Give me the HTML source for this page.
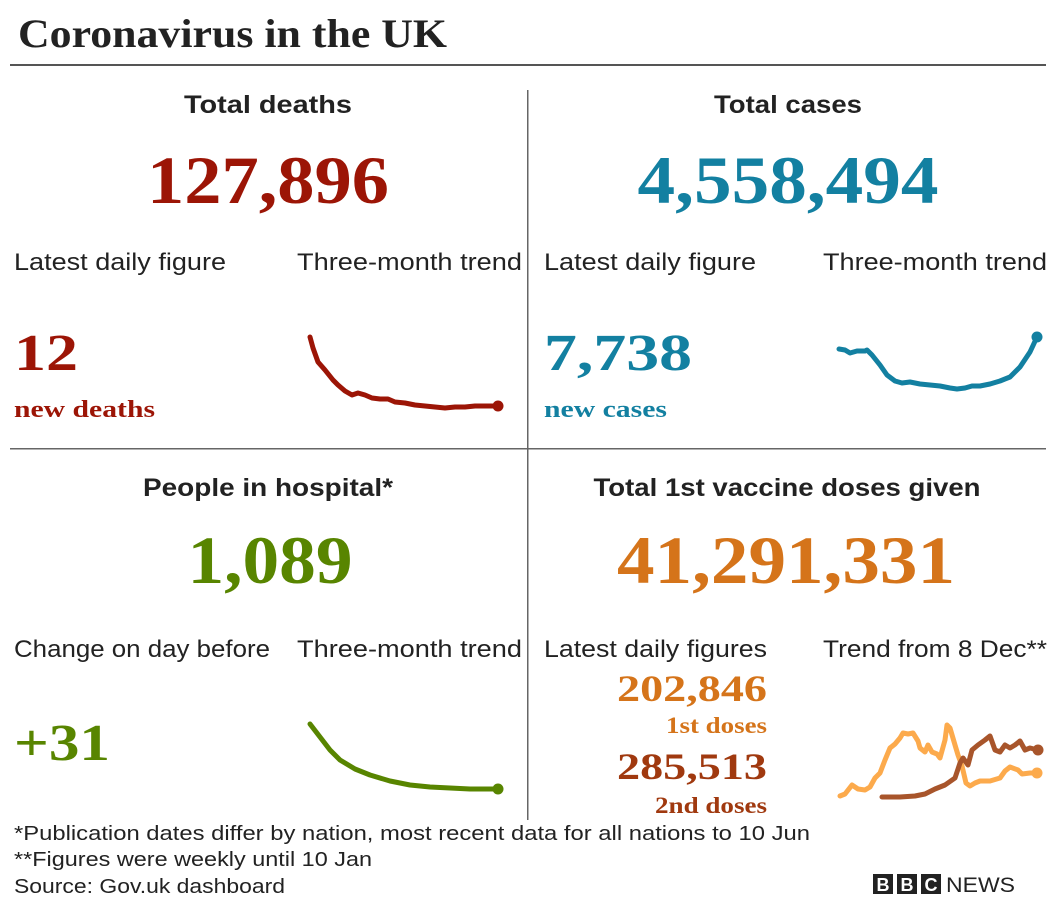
<!DOCTYPE html>
<html><head><meta charset="utf-8"><style>
html,body{margin:0;padding:0;background:#fff}
svg{display:block}
.sans{font-family:"Liberation Sans",sans-serif;fill:#222}
.serif{font-family:"Liberation Serif",serif}
.big{font-weight:bold}
</style></head><body>
<svg id="chart" width="1056" height="907" viewBox="0 0 1056 907">
<text class="serif" x="18" y="47" font-size="40" font-weight="bold" fill="#222" textLength="429" lengthAdjust="spacingAndGlyphs">Coronavirus in the UK</text>
<rect x="10" y="64" width="1036" height="2" fill="#555"/>
<rect x="527" y="90" width="1.5" height="730" fill="#666"/>
<rect x="10" y="448" width="1036" height="1.5" fill="#666"/>

<!-- Deaths -->
<text class="sans" x="268" y="113" text-anchor="middle" font-size="25" font-weight="bold" textLength="168" lengthAdjust="spacingAndGlyphs">Total deaths</text>
<text class="serif big" x="268" y="203" text-anchor="middle" font-size="68" fill="#9c1506" textLength="242" lengthAdjust="spacingAndGlyphs">127,896</text>
<text class="sans" x="14" y="270" font-size="24" textLength="212" lengthAdjust="spacingAndGlyphs">Latest daily figure</text>
<text class="sans" x="297" y="270" font-size="24" textLength="225" lengthAdjust="spacingAndGlyphs">Three-month trend</text>
<text class="serif big" x="14" y="370" font-size="52" fill="#9c1506" textLength="64" lengthAdjust="spacingAndGlyphs">12</text>
<text class="serif" x="14" y="417" font-size="24" font-weight="bold" fill="#9c1506" textLength="141" lengthAdjust="spacingAndGlyphs">new deaths</text>

<!-- Cases -->
<text class="sans" x="788" y="113" text-anchor="middle" font-size="25" font-weight="bold" textLength="148" lengthAdjust="spacingAndGlyphs">Total cases</text>
<text class="serif big" x="788" y="203" text-anchor="middle" font-size="68" fill="#1380a1" textLength="301" lengthAdjust="spacingAndGlyphs">4,558,494</text>
<text class="sans" x="544" y="270" font-size="24" textLength="212" lengthAdjust="spacingAndGlyphs">Latest daily figure</text>
<text class="sans" x="823" y="270" font-size="24" textLength="224" lengthAdjust="spacingAndGlyphs">Three-month trend</text>
<text class="serif big" x="544" y="370" font-size="52" fill="#1380a1" textLength="148" lengthAdjust="spacingAndGlyphs">7,738</text>
<text class="serif" x="544" y="417" font-size="24" font-weight="bold" fill="#1380a1" textLength="123" lengthAdjust="spacingAndGlyphs">new cases</text>

<!-- Hospital -->
<text class="sans" x="268" y="496" text-anchor="middle" font-size="25" font-weight="bold" textLength="250" lengthAdjust="spacingAndGlyphs">People in hospital*</text>
<text class="serif big" x="270" y="583" text-anchor="middle" font-size="68" fill="#588500" textLength="165" lengthAdjust="spacingAndGlyphs">1,089</text>
<text class="sans" x="14" y="657" font-size="24" textLength="256" lengthAdjust="spacingAndGlyphs">Change on day before</text>
<text class="sans" x="297" y="657" font-size="24" textLength="225" lengthAdjust="spacingAndGlyphs">Three-month trend</text>
<text class="serif big" x="14" y="760" font-size="52" fill="#588500" textLength="96" lengthAdjust="spacingAndGlyphs">+31</text>

<!-- Vaccine -->
<text class="sans" x="787" y="496" text-anchor="middle" font-size="25" font-weight="bold" textLength="387" lengthAdjust="spacingAndGlyphs">Total 1st vaccine doses given</text>
<text class="serif big" x="786" y="583" text-anchor="middle" font-size="68" fill="#d5741a" textLength="338" lengthAdjust="spacingAndGlyphs">41,291,331</text>
<text class="sans" x="544" y="657" font-size="24" textLength="223" lengthAdjust="spacingAndGlyphs">Latest daily figures</text>
<text class="sans" x="823" y="657" font-size="24" textLength="224" lengthAdjust="spacingAndGlyphs">Trend from 8 Dec**</text>
<text class="serif big" x="767" y="701" text-anchor="end" font-size="37" fill="#d5741a" textLength="150" lengthAdjust="spacingAndGlyphs">202,846</text>
<text class="serif" x="767" y="733" text-anchor="end" font-size="23" font-weight="bold" fill="#d5741a" textLength="101" lengthAdjust="spacingAndGlyphs">1st doses</text>
<text class="serif big" x="767" y="779" text-anchor="end" font-size="37" fill="#a0390f" textLength="150" lengthAdjust="spacingAndGlyphs">285,513</text>
<text class="serif" x="767" y="813" text-anchor="end" font-size="23" font-weight="bold" fill="#a0390f" textLength="112" lengthAdjust="spacingAndGlyphs">2nd doses</text>

<!-- Footer -->
<text class="sans" x="14" y="840" font-size="20" textLength="796" lengthAdjust="spacingAndGlyphs">*Publication dates differ by nation, most recent data for all nations to 10 Jun</text>
<text class="sans" x="14" y="866" font-size="20" textLength="358" lengthAdjust="spacingAndGlyphs">**Figures were weekly until 10 Jan</text>
<text class="sans" x="14" y="893" font-size="20" textLength="271" lengthAdjust="spacingAndGlyphs">Source: Gov.uk dashboard</text>
<g>
<rect x="873" y="874" width="20" height="20" fill="#222"/><text x="883" y="891" text-anchor="middle" font-family="Liberation Sans" font-weight="bold" font-size="18" fill="#fff">B</text>
<rect x="897" y="874" width="20" height="20" fill="#222"/><text x="907" y="891" text-anchor="middle" font-family="Liberation Sans" font-weight="bold" font-size="18" fill="#fff">B</text>
<rect x="921" y="874" width="20" height="20" fill="#222"/><text x="931" y="891" text-anchor="middle" font-family="Liberation Sans" font-weight="bold" font-size="18" fill="#fff">C</text>
<text x="946" y="892" font-family="Liberation Sans" font-size="21" fill="#222" textLength="69" lengthAdjust="spacingAndGlyphs">NEWS</text>
</g>
<g id="sparks"></g>
</svg>
<script>
// Deaths trend (days index, relative daily deaths)
const deathDays=[0,3,8,15,23,28,35,42,48,55,62,70,78,85,95,105,115,125,135,145,155,165,175,188];
const deathVals=[70,59,45,37,27,22,16,12,14,12,9,8,8,5,4,2,1,0,-1,0,0,1,1,1];
// Cases trend
const caseDays=[0,6,11,18,26,28,33,41,48,56,63,71,81,91,101,111,118,126,133,141,151,161,171,181,191,198];
const caseVals=[41,40,37,39,39,40,35,25,15,9,7,8,6,5,4,2,1,2,4,4,6,9,13,23,38,53];
// Hospital trend
const hospDays=[0,10,20,30,45,60,80,100,120,140,160,188];
const hospVals=[66,53,40,30,21,15,9,5,3,2,1,1];
// Vaccines, days from 8 Dec
const firstDays=[0,5,12,18,25,30,35,40,45,50,55,60,63,68,73,78,80,85,88,92,97,100,105,107,110,115,118,122,126,130,135,140,150,160,165,170,178,182,190,197];
const firstVals=[0,2,11,7,6,9,18,23,36,48,52,58,63,62,63,55,48,44,51,44,42,38,56,71,68,51,41,30,13,10,13,15,15,18,25,29,26,22,23,23];
const secondDays=[42,60,75,85,95,105,115,120,123,128,132,138,145,150,155,160,165,170,175,180,185,190,198];
const secondVals=[-1,-1,0,2,7,11,18,33,38,31,46,51,56,60,46,44,51,48,51,55,46,48,46];

const g=document.getElementById('sparks');
const NS='http://www.w3.org/2000/svg';
function scale(d0,d1,r0,r1){return v=>r0+(v-d0)*(r1-r0)/(d1-d0);}
function draw(days,vals,xs,ys,color,name,dot){
  const p=document.createElementNS(NS,'polyline');
  p.setAttribute('points',days.map((d,i)=>xs(d).toFixed(1)+','+ys(vals[i]).toFixed(1)).join(' '));
  p.setAttribute('fill','none');p.setAttribute('stroke',color);p.setAttribute('stroke-width','5');
  p.setAttribute('stroke-linejoin','round');p.setAttribute('stroke-linecap','round');
  
  
  g.appendChild(p);
  if(dot){const c=document.createElementNS(NS,'circle');const n=days.length-1;
    c.setAttribute('cx',xs(days[n]));c.setAttribute('cy',ys(vals[n]));c.setAttribute('r','5.5');c.setAttribute('fill',color);
    
    
    g.appendChild(c);}
}
draw(deathDays,deathVals,scale(0,188,310,498),scale(0,70,407,337),'#9c1506','deaths-trend-line',true);
draw(caseDays,caseVals,scale(0,198,839,1037),scale(0,53,390,337),'#1380a1','cases-trend-line',true);
draw(hospDays,hospVals,scale(0,188,310,498),scale(0,66,790,724),'#588500','hospital-trend-line',true);
const vx=scale(0,197,840,1037), vy=scale(0,71,796,725);
draw(firstDays,firstVals,vx,vy,'#fcaa4c','first-doses-trend-line',true);
draw(secondDays,secondVals,vx,vy,'#a8552b','second-doses-trend-line',true);
</script>
</body></html>
